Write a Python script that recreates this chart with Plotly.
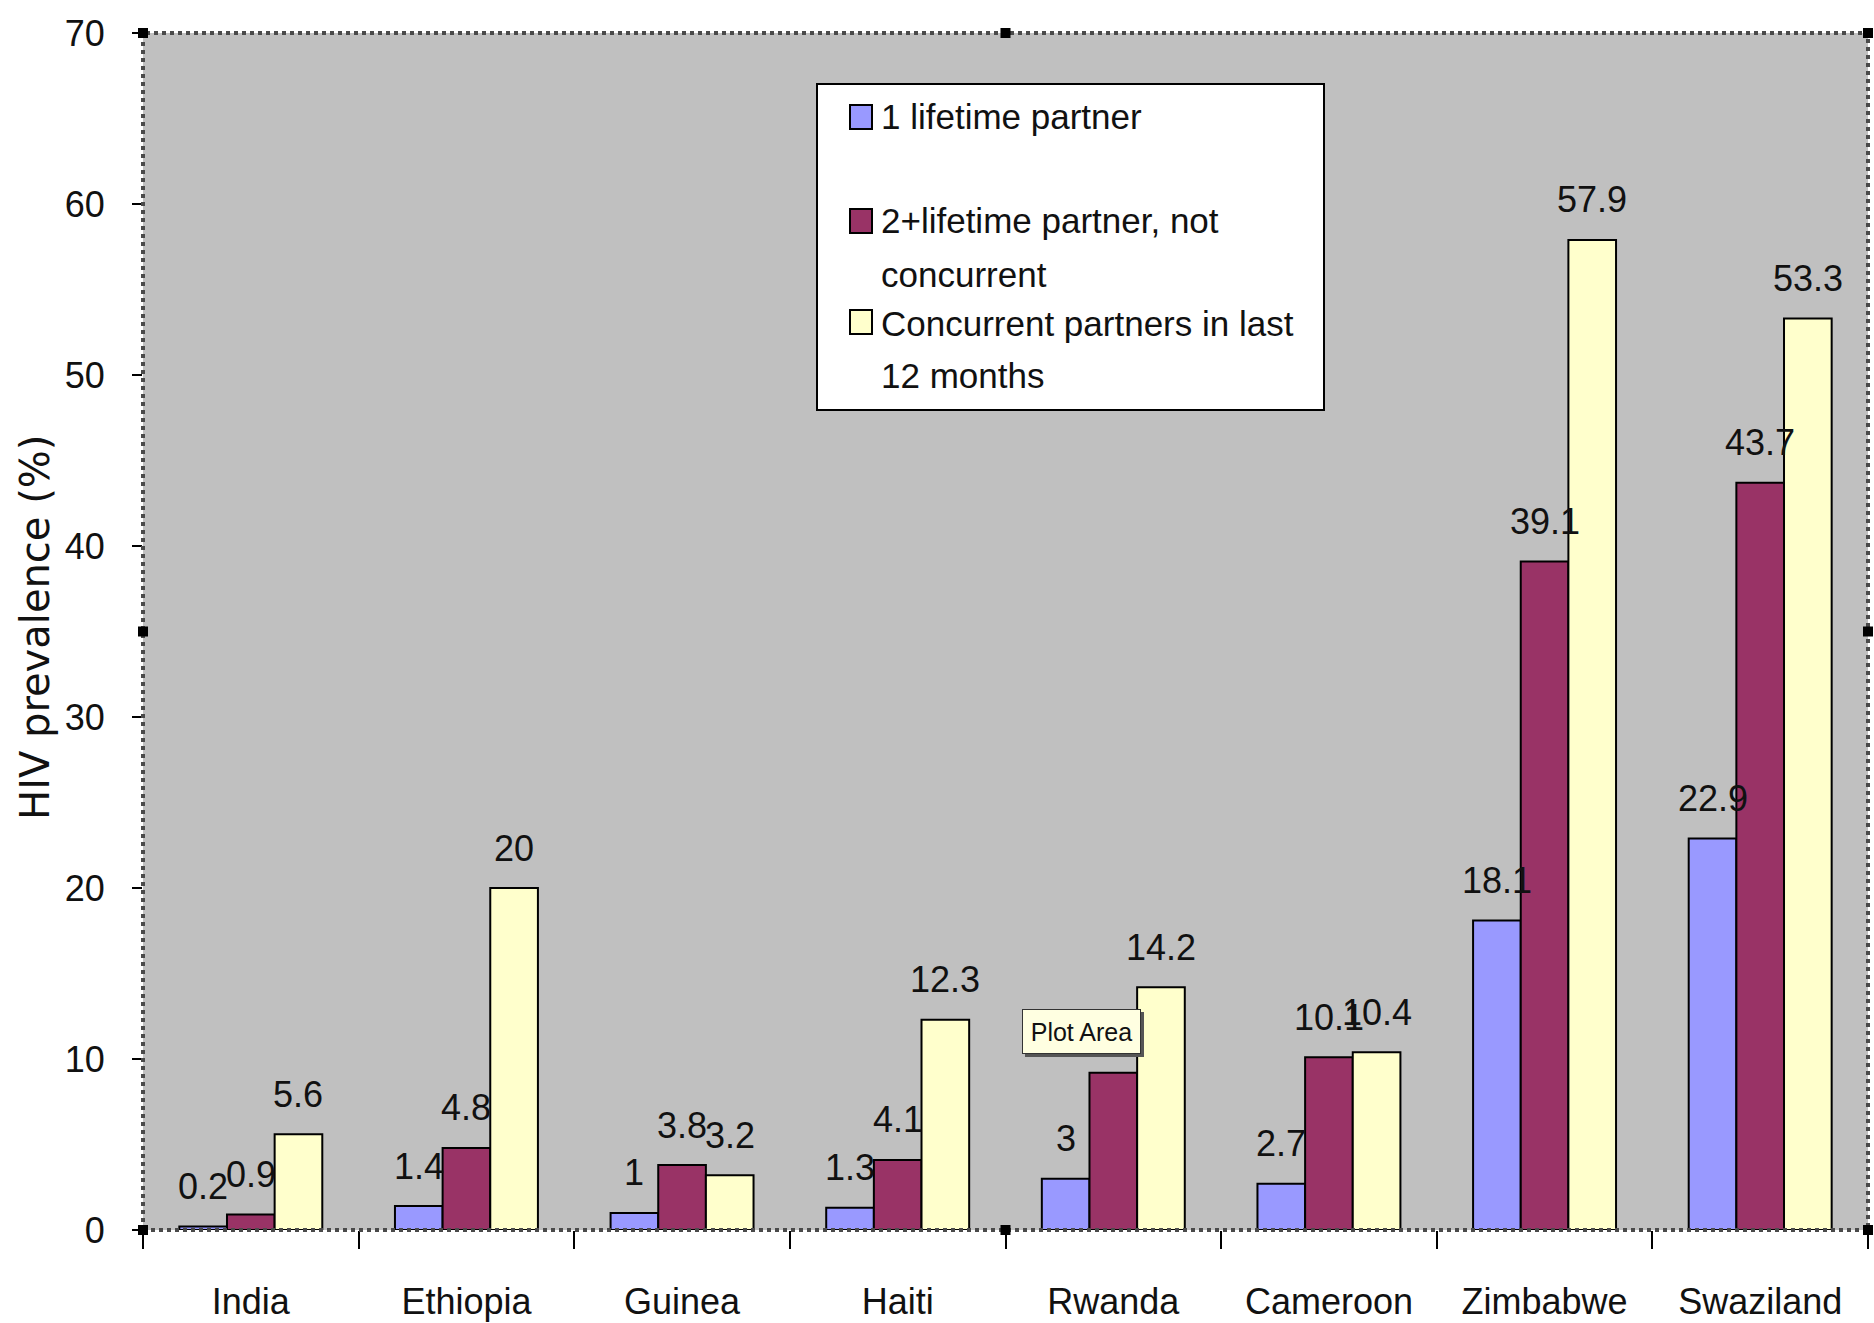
import plotly.graph_objects as go

# HIV prevalence by number of sexual partners, by country
countries = ["India", "Ethiopia", "Guinea", "Haiti", "Rwanda", "Cameroon", "Zimbabwe", "Swaziland"]
one_partner = [0.2, 1.4, 1, 1.3, 3, 2.7, 18.1, 22.9]
two_plus_not_concurrent = [0.9, 4.8, 3.8, 4.1, 9.2, 10.1, 39.1, 43.7]
concurrent_12m = [5.6, 20, 3.2, 12.3, 14.2, 10.4, 57.9, 53.3]

series_names = [
    "1 lifetime partner",
    "2+lifetime partner, not concurrent",
    "Concurrent partners in last 12 months",
]
series_values = [one_partner, two_plus_not_concurrent, concurrent_12m]
series_colors = ["#9999FF", "#993366", "#FFFFCC"]

y_ticks = [0, 10, 20, 30, 40, 50, 60, 70]

# value label covered by the "Plot Area" tooltip (series index, country)
covered_labels = {(1, "Rwanda")}

FONT = "Liberation Sans, Arial, sans-serif"
INK = "#111111"

BARGAP = 0.337
bar_w = (1 - BARGAP) / len(series_values)

fig = go.Figure()
for name, vals, col in zip(series_names, series_values, series_colors):
    fig.add_trace(go.Bar(
        x=countries, y=vals, name=name,
        marker=dict(color=col, line=dict(color="black", width=2)),
        showlegend=False, hoverinfo="x+y+name",
    ))

annotations = []
# value labels above each bar
for k, vals in enumerate(series_values):
    off = (k - 1) * bar_w
    for i, v in enumerate(vals):
        if (k, countries[i]) in covered_labels:
            continue
        annotations.append(dict(
            x=i + off, y=v, xref="x", yref="y",
            text=f"{v:g}", showarrow=False,
            yanchor="middle", yshift=40,
            font=dict(family=FONT, size=36, color=INK),
        ))

# y axis title
annotations.append(dict(
    x=0, y=0.503, xref="paper", yref="paper", xshift=-108,
    text="HIV prevalence (%)", textangle=-90, showarrow=False,
    xanchor="center", yanchor="middle",
    font=dict(family="DejaVu Sans, sans-serif", size=40, color=INK),
))

PLOT_TOP, PLOT_BOTTOM, PLOT_LEFT, PLOT_W = 33, 1230, 143, 1725


def py(pix_y):
    return (PLOT_BOTTOM - pix_y) / (PLOT_BOTTOM - PLOT_TOP)


def px(pix_x):
    return (pix_x - PLOT_LEFT) / PLOT_W


# legend box drawn inside the plot area
shapes = []
shapes.append(dict(type="rect", xref="paper", yref="paper",
                   x0=px(817), x1=px(1324), y0=py(410), y1=py(84),
                   fillcolor="white", line=dict(color="black", width=2), layer="above"))

legend_rows = [
    (117, [(116, "1 lifetime partner")]),
    (221, [(220, "2+lifetime partner, not"), (274, "concurrent")]),
    (322, [(323, "Concurrent partners in last"), (375, "12 months")]),
]
for (sq_y, lines), col in zip(legend_rows, series_colors):
    shapes.append(dict(type="rect", xref="paper", yref="paper",
                       xsizemode="pixel", ysizemode="pixel",
                       xanchor=px(861), yanchor=py(sq_y),
                       x0=-11, x1=11, y0=-12, y1=12,
                       fillcolor=col, line=dict(color="black", width=2), layer="above"))
    for ly, txt in lines:
        annotations.append(dict(
            x=px(879), y=py(ly), xref="paper", yref="paper",
            text=txt, showarrow=False, xanchor="left", yanchor="middle",
            font=dict(family=FONT, size=35, color=INK),
        ))

# dotted plot-area frame with selection handles
shapes.append(dict(type="rect", xref="paper", yref="paper", x0=0, x1=1, y0=0, y1=1,
                   line=dict(color="#4a4a4a", width=4, dash="dot"), layer="above"))
for hx, hy in [(0, 0), (0.5, 0), (1, 0), (0, 0.5), (1, 0.5), (0, 1), (0.5, 1), (1, 1)]:
    shapes.append(dict(type="rect", xref="paper", yref="paper",
                       xsizemode="pixel", ysizemode="pixel",
                       xanchor=hx, yanchor=hy, x0=-5, x1=5, y0=-5, y1=5,
                       fillcolor="black", line=dict(width=0), layer="above"))

# "Plot Area" tooltip with its drop shadow
TX0, TX1, TYT, TYB = 1022, 1141, 1009, 1054
shapes.append(dict(type="rect", xref="paper", yref="paper",
                   x0=px(TX0 + 3), x1=px(TX1 + 3), y0=py(TYB + 3), y1=py(TYT + 3),
                   fillcolor="#555555", line=dict(width=0), layer="above"))
annotations.append(dict(
    x=px((TX0 + TX1) / 2), y=py((TYT + TYB) / 2), xref="paper", yref="paper",
    text="Plot Area", showarrow=False, xanchor="center", yanchor="middle",
    width=TX1 - TX0 - 2, height=TYB - TYT - 2,
    bgcolor="#FFFFE1", bordercolor="#333333", borderwidth=1, borderpad=0,
    font=dict(family=FONT, size=25, color=INK),
))

fig.update_layout(
    width=1874, height=1323,
    margin=dict(l=143, r=6, t=33, b=93),
    paper_bgcolor="white", plot_bgcolor="#C0C0C0",
    barmode="group", bargap=BARGAP, bargroupgap=0,
    annotations=annotations, shapes=shapes,
    font=dict(family=FONT, color=INK),
)
fig.update_xaxes(
    type="category", range=[-0.5, len(countries) - 0.5], automargin=False,
    showgrid=False, showline=False, zeroline=False,
    ticks="outside", tickson="boundaries", ticklen=18, tickwidth=2, tickcolor="black",
    ticklabelstandoff=47,
    tickfont=dict(family=FONT, size=36, color=INK),
)
fig.update_yaxes(
    range=[0, 70], tickvals=y_ticks, automargin=False,
    showgrid=False, showline=False, zeroline=False,
    ticks="outside", ticklen=10, tickwidth=2, tickcolor="black",
    ticklabelstandoff=20,
    tickfont=dict(family=FONT, size=36, color=INK),
)

fig.write_html("out.html")
